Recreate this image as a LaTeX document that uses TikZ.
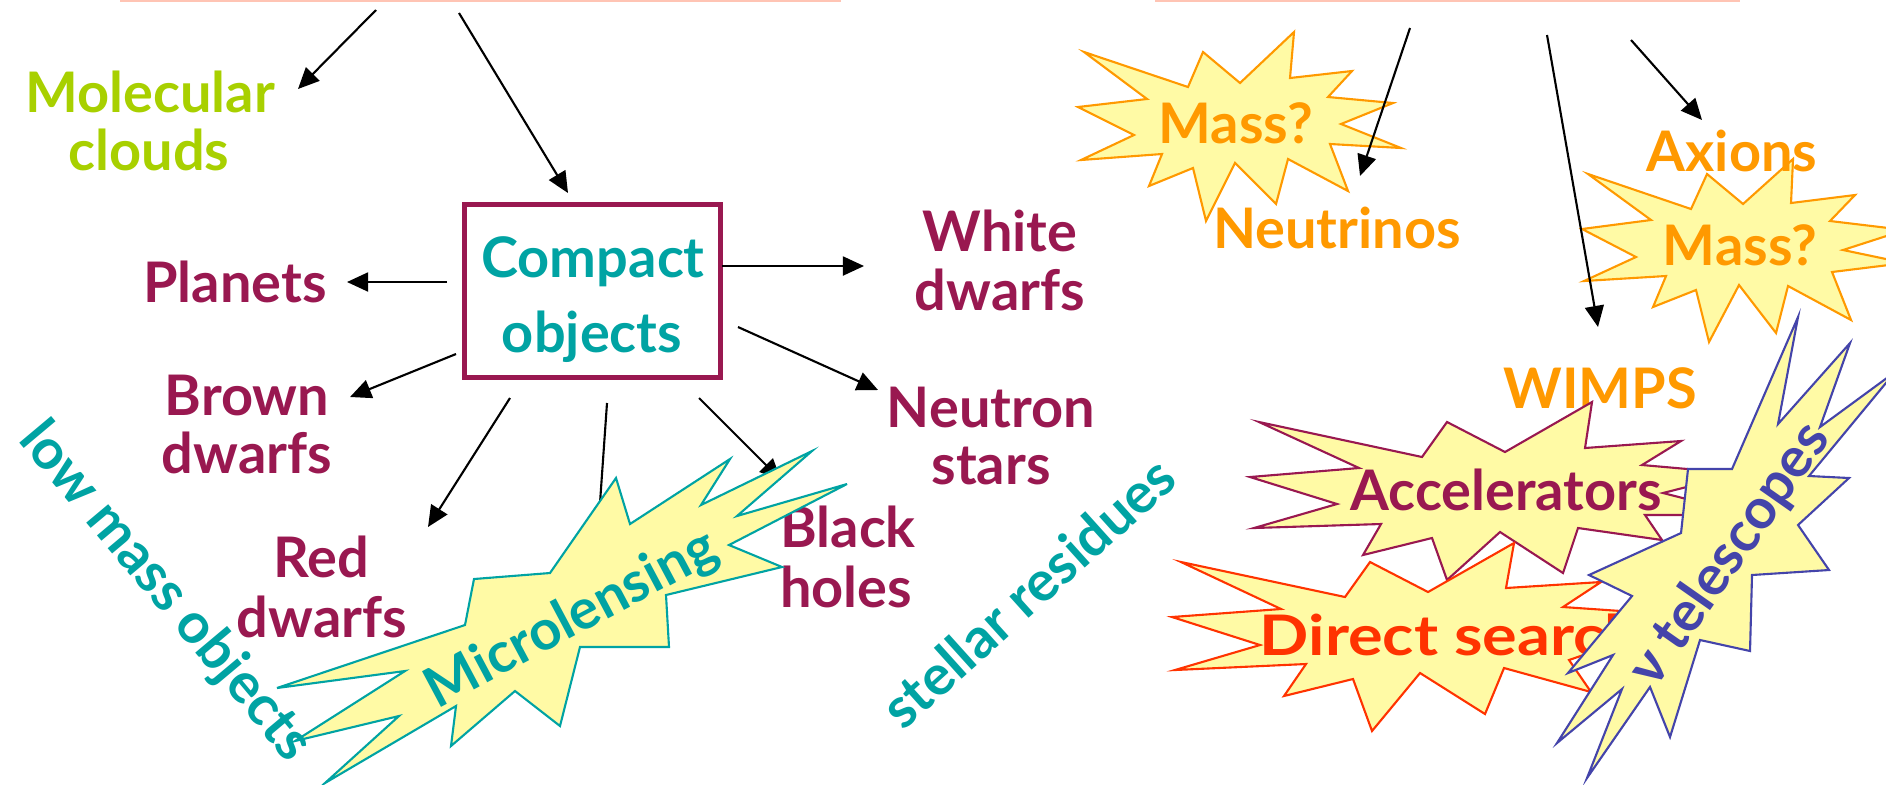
\documentclass[tikz,border=0pt]{standalone}
\usepackage{fontspec}
\usepackage{graphicx}
\setmainfont{Lato}
\usetikzlibrary{arrows.meta}
\definecolor{mag}{RGB}{153,24,80}
\definecolor{tealc}{RGB}{0,163,163}
\definecolor{limec}{RGB}{168,208,0}
\definecolor{orng}{RGB}{255,153,0}
\definecolor{redd}{RGB}{255,51,0}
\definecolor{blu}{RGB}{68,68,170}
\definecolor{fillY}{RGB}{255,250,165}
\definecolor{pinkline}{RGB}{255,196,180}
\begin{document}
\begin{tikzpicture}[x=0.01cm,y=-0.01cm,
  lbl/.style={font=\bfseries\fontsize{15.9}{16.5}\selectfont, inner sep=0pt, anchor=base},
  rlbl/.style={font=\bfseries\fontsize{15.9}{16.5}\selectfont, inner sep=0pt, anchor=center},
  arr/.style={-{Triangle[length=6pt,width=5.4pt]}, line width=0.6pt},
  burst/.style={fill=fillY, line width=0.6pt, line join=miter},
  topline/.style={pinkline, line width=0.7pt}]
\useasboundingbox (0,0) rectangle (1886,784);
\clip (0,0) rectangle (1886,784);

% top edges
\coordinate (tl1) at (120,0.5); \coordinate (tl2) at (841,0.5);
\coordinate (tr1) at (1155,0.5); \coordinate (tr2) at (1740,0.5);
\draw[topline] (tl1) -- (tl2);
\draw[topline] (tr1) -- (tr2);

% left group texts
\node[lbl, limec] (mc1) at (150,112) {Molecular};
\node[lbl, limec] (mc2) at (149,170) {clouds};
\node[draw=mag, line width=1.5pt, minimum width=2.56cm, minimum height=1.73cm, inner sep=0pt] (box) at (592.5,291) {};
\node[lbl, tealc] (co1) at (593,277) {Compact};
\node[lbl, tealc] (co2) at (592,352) {objects};
\node[lbl, mag] (pl) at (235,302) {Planets};
\node[lbl, mag] (bd1) at (247,415) {Brown};
\node[lbl, mag] (bd2) at (247,473) {dwarfs};
\node[lbl, mag] (rd1) at (321,577) {Red};
\node[lbl, mag] (rd2) at (322,637) {dwarfs};
\node[lbl, mag] (wd1) at (1000,251) {White};
\node[lbl, mag] (wd2) at (1000,310) {dwarfs};
\node[lbl, mag] (ns1) at (991,427) {Neutron};
\node[lbl, mag] (ns2) at (991,484) {stars};
\node[lbl, mag] (bh1) at (848,547) {Black};
\node[lbl, mag] (bh2) at (846,607) {holes};
\node[rlbl, tealc, rotate=42] (sr) at (1028,592) {stellar residues};

% left arrows
\coordinate (a1s) at (376,10);  \coordinate (a1e) at (298,89);
\coordinate (a2s) at (459,13);  \coordinate (a2e) at (568,193);
\coordinate (a3s) at (447,282); \coordinate (a3e) at (347,282);
\coordinate (a4s) at (722,266); \coordinate (a4e) at (864,266);
\coordinate (a5s) at (738,327); \coordinate (a5e) at (878,390);
\coordinate (a6s) at (456,354); \coordinate (a6e) at (350,397);
\coordinate (a7s) at (510,398); \coordinate (a7e) at (428,527);
\coordinate (a8s) at (607,403); \coordinate (a8e) at (596,560);
\coordinate (a9s) at (699,398); \coordinate (a9e) at (781,480);
\draw[arr] (a1s) -- (a1e);
\draw[arr] (a2s) -- (a2e);
\draw[arr] (a3s) -- (a3e);
\draw[arr] (a4s) -- (a4e);
\draw[arr] (a5s) -- (a5e);
\draw[arr] (a6s) -- (a6e);
\draw[arr] (a7s) -- (a7e);
\draw[arr] (a8s) -- (a8e);
\draw[arr] (a9s) -- (a9e);

% Microlensing burst
\draw[burst, draw=tealc] (550,573) -- (616,478) -- (630,524) -- (730,459) -- (701,505) -- (812,451) -- (737,516) -- (847,484) -- (729,545) -- (782,567) -- (666,595) -- (669,647) -- (580,647) -- (560,726) -- (515,691) -- (451,746) -- (456,706) -- (325,783) -- (399,716) -- (295,741) -- (405,671) -- (277,688) -- (465,625) -- (474,579) -- cycle;
\node[rlbl, tealc, rotate=28] (ml) at (572,620) {Microlensing};
\node[rlbl, tealc, rotate=-50] (lm) at (165,592) {low mass objects};

% right group
\draw[burst, draw=orng] (1084,52) -- (1188,87) -- (1203,52) -- (1240,83) -- (1294,32) -- (1290,78) -- (1352,71) -- (1328,97) -- (1393,103) -- (1341,124) -- (1401,148) -- (1330,144) -- (1348,191) -- (1288,159) -- (1276,204) -- (1235,163) -- (1206,221) -- (1193,168) -- (1149,186) -- (1162,154) -- (1081,160) -- (1134,135) -- (1078,107) -- (1147,99) -- cycle;
\node[lbl, orng] (m1) at (1236,143) {Mass?};
\node[lbl, orng] (nu) at (1337,248) {Neutrinos};

\draw[burst, draw=orng] (1588,174) -- (1691,209) -- (1707,174) -- (1743,204) -- (1793,159) -- (1791,203) -- (1855,195) -- (1830,221) -- (1905,230) -- (1843,250) -- (1905,263) -- (1832,272) -- (1851,320) -- (1788,286) -- (1776,333) -- (1739,285) -- (1709,342) -- (1696,290) -- (1653,307) -- (1666,276) -- (1584,281) -- (1636,257) -- (1582,229) -- (1651,220) -- cycle;
\node[lbl, orng] (m2) at (1740,265) {Mass?};
\node[lbl, orng] (ax) at (1732,171) {Axions};
\node[lbl, orng] (wi) at (1600,408) {WIMPS};

\coordinate (b1s) at (1410,28);  \coordinate (b1e) at (1360,176);
\coordinate (b2s) at (1547,35);  \coordinate (b2e) at (1598,327);
\coordinate (b3s) at (1631,40);  \coordinate (b3e) at (1702,120);
\draw[arr] (b1s) -- (b1e);
\draw[arr] (b2s) -- (b2e);
\draw[arr] (b3s) -- (b3e);

% Accelerators
\draw[burst, draw=mag] (1259,422) -- (1422,457) -- (1447,422) -- (1505,452) -- (1592,402) -- (1585,448) -- (1681,441) -- (1642,465) -- (1710,471) -- (1710,481) -- (1663,493) -- (1710,505) -- (1710,515) -- (1645,515) -- (1662,540) -- (1578,528) -- (1563,573) -- (1500,532) -- (1447,580) -- (1432,538) -- (1363,555) -- (1381,524) -- (1254,528) -- (1337,504) -- (1250,477) -- (1359,468) -- cycle;
\node[lbl, mag] (acc) at (1506,510) {Accelerators};

% Direct search
\draw[burst, draw=redd] (1181,562) -- (1345,597) -- (1370,562) -- (1428,592) -- (1514,543) -- (1506,588) -- (1601,582) -- (1563,607) -- (1621,611) -- (1670,625) -- (1569,660) -- (1591,692) -- (1504,668) -- (1485,714) -- (1420,673) -- (1372,731) -- (1353,679) -- (1284,696) -- (1306,664) -- (1175,670) -- (1260,645) -- (1172,617) -- (1281,609) -- cycle;
\node[lbl, redd, anchor=base west] (ds) at (1259,655) {\scalebox{1.16}[1]{Direct search}};

% neutrino telescopes
\draw[burst, draw=blu] (1589,575) -- (1632,596) -- (1568,673) -- (1613,655) -- (1557,743) -- (1622,689) -- (1587,778) -- (1650,687) -- (1670,737) -- (1700,640) -- (1750,651) -- (1752,575) -- (1829,570) -- (1798,525) -- (1849,478) -- (1809,476) -- (1895,372) -- (1820,427) -- (1850,343) -- (1778,424) -- (1798,317) -- (1732,469) -- (1688,469) -- (1681,533) -- cycle;
\node[rlbl, blu, rotate=55] (nt) at (1730,555) {ν telescopes};
\end{tikzpicture}
\end{document}
